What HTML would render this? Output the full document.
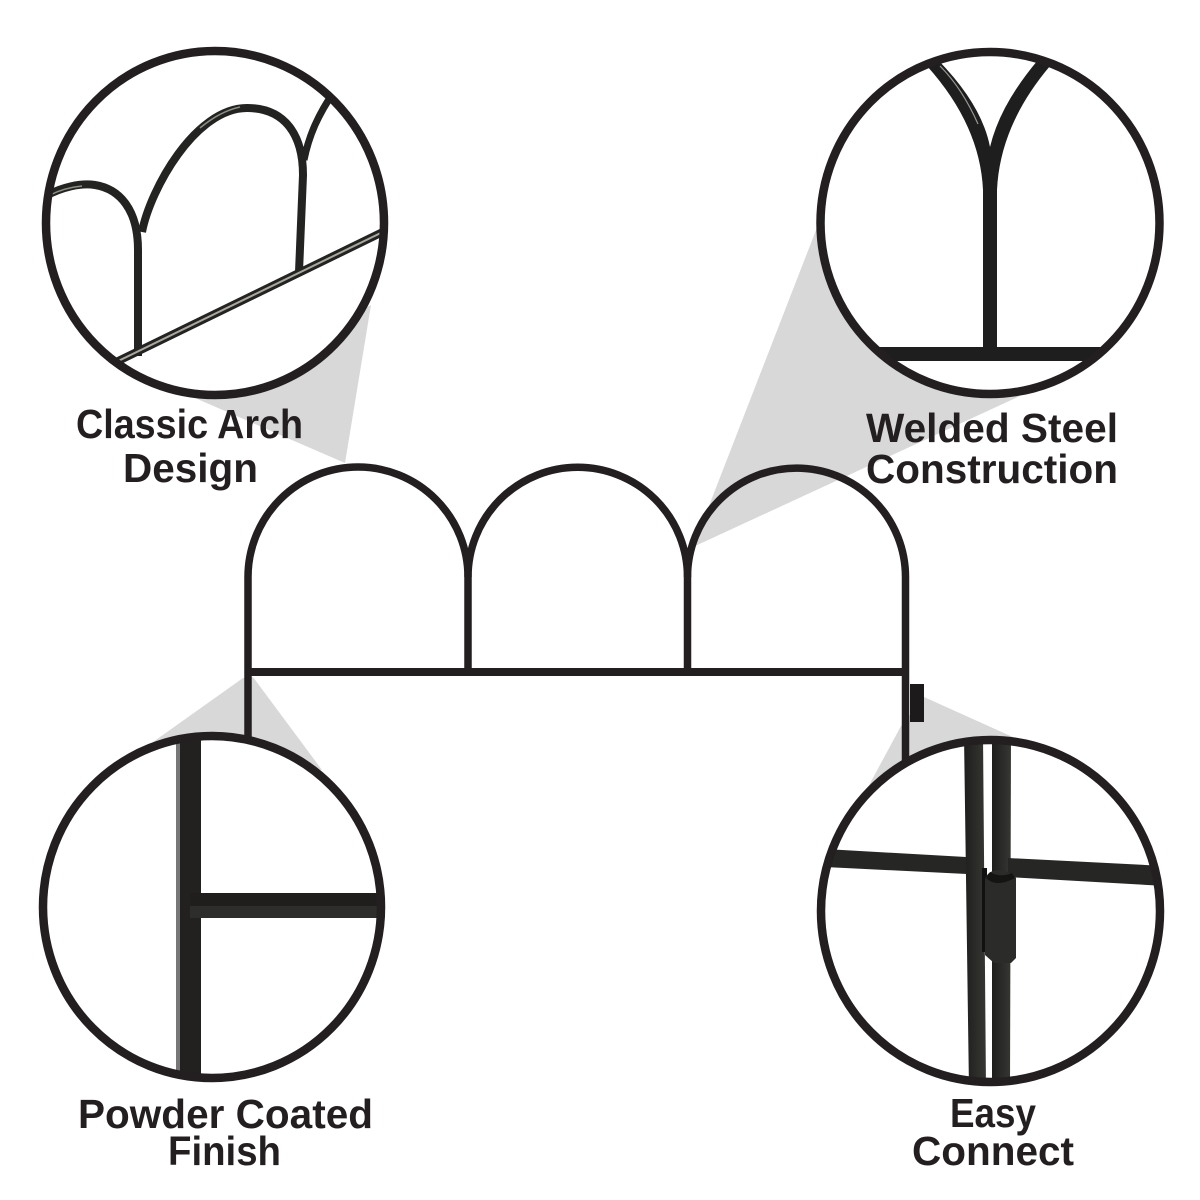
<!DOCTYPE html>
<html><head><meta charset="utf-8"><style>
html,body{margin:0;padding:0;background:#fff}
svg{display:block}
text{font-family:"Liberation Sans",sans-serif;font-weight:700;font-size:41px;fill:#231f20}
</style></head><body>
<svg width="1200" height="1200" viewBox="0 0 1200 1200" xmlns="http://www.w3.org/2000/svg">
<defs>
<clipPath id="c1"><ellipse cx="215" cy="223" rx="169" ry="172"/></clipPath>
<clipPath id="c2"><ellipse cx="990" cy="223" rx="169.500" ry="171"/></clipPath>
<clipPath id="c3"><ellipse cx="212" cy="907" rx="169" ry="171"/></clipPath>
<clipPath id="c4"><ellipse cx="990.500" cy="911" rx="169.500" ry="171"/></clipPath>
<linearGradient id="bar" x1="0" x2="1" y1="0" y2="0"><stop offset="0" stop-color="#1e1e1d"/><stop offset="1" stop-color="#363633"/></linearGradient>
</defs>
<rect width="1200" height="1200" fill="#fff"/>
<g fill="#d8d8d8">
<polygon points="195,398 345,463 371,305"/>
<polygon points="818,225 693,547 1020,396"/>
<polygon points="243,678 153,742 322,770 253,677"/>
<polygon points="901,726 924,697 1015,738 867,789"/>
</g>
<g fill="none" stroke="#231f20" stroke-width="7.500">
<path d="M248,740V577A100,100 0 0 1 468,577V672"/>
<path d="M468,577A100,100 0 0 1 687.500,577V672"/>
<path d="M687.500,577A100,100 0 0 1 905.500,577V765"/>
<path d="M248,672H905.500" stroke-width="8"/>
</g>
<rect x="910" y="684" width="14" height="38" fill="#1c1a1b"/>

<g>
<ellipse cx="215" cy="223" rx="169" ry="172" fill="#fff"/>
<g clip-path="url(#c1)" fill="none" stroke="#232321" stroke-linecap="butt">
<path d="M40,199C62,186 82,183 95,185C120,189 138,210 138,250V356" stroke-width="8"/>
<path d="M142,232C150,190 195,108 247,108C285,108 303,135 303,175L299,272" stroke-width="8"/>
<path d="M304,160C309,135 318,115 335,90" stroke-width="7"/>
<path d="M110,365L395,226" stroke-width="8"/>
<path d="M110,365L395,226" stroke="#a9a79e" stroke-width="2"/>
<path d="M50,195C60,190 72,187 82,186" stroke="#8f8e86" stroke-width="1.500"/>
<path d="M200,128C212,118 226,110 240,107" stroke="#8f8e86" stroke-width="1.500"/>
</g>
<ellipse cx="215" cy="223" rx="169" ry="172" fill="none" stroke="#231f20" stroke-width="8.500"/>
</g>

<g>
<ellipse cx="990" cy="223" rx="169.500" ry="171" fill="#fff"/>
<g clip-path="url(#c2)">
<path d="M927,66Q980,125 983,190V350H997V190Q1000,125 1050,66L1038,60Q1000,105 990,147Q982,105 938,60Z" fill="#1f1e1e"/>
<path d="M940,66Q962,88 978,124" fill="none" stroke="#9a9a94" stroke-width="1.200"/>
<rect x="860" y="347" width="260" height="14" fill="#1f1e1e"/>
</g>
<ellipse cx="990" cy="223" rx="169.500" ry="171" fill="none" stroke="#231f20" stroke-width="8.500"/>
</g>

<g>
<ellipse cx="212" cy="907" rx="169" ry="171" fill="#fff"/>
<g clip-path="url(#c3)">
<rect x="176" y="730" width="5" height="360" fill="#777"/>
<rect x="180" y="730" width="21" height="360" fill="#222120"/>
<rect x="190" y="893" width="200" height="13" fill="#1f1e1d"/>
<rect x="190" y="906" width="200" height="12" fill="#2d2d2b"/>
</g>
<ellipse cx="212" cy="907" rx="169" ry="171" fill="none" stroke="#231f20" stroke-width="8.500"/>
</g>

<g>
<ellipse cx="990.500" cy="911" rx="169.500" ry="171" fill="#fff"/>
<g clip-path="url(#c4)" fill="#262625">
<polygon points="964,735 983,735 986,1090 969,1090" fill="url(#bar)"/>
<polygon points="992,735 1011,735 1010,1090 992,1090" fill="url(#bar)"/>
<polygon points="825,849 966,857 967,874 825,867"/>
<polygon points="1008,858 1165,866 1165,886 1008,877"/>
<rect x="982" y="868" width="5" height="84" fill="#111"/>
<path d="M985,879Q988,870 1000,870Q1012,872 1016,878V958L1011,963H994L985,955Z" fill="#2b2b29"/>
<path d="M986,878Q996,888 1015,878L1012,873Q1000,878 990,872Z" fill="#141413"/>
</g>
<ellipse cx="990.500" cy="911" rx="169.500" ry="171" fill="none" stroke="#231f20" stroke-width="8.500"/>
</g>

<text x="76" y="438" textLength="227" lengthAdjust="spacingAndGlyphs">Classic Arch</text>
<text x="123" y="482" textLength="135" lengthAdjust="spacingAndGlyphs">Design</text>
<text x="866" y="442" textLength="252" lengthAdjust="spacingAndGlyphs">Welded Steel</text>
<text x="866" y="483" textLength="252" lengthAdjust="spacingAndGlyphs">Construction</text>
<text x="78" y="1128" textLength="295" lengthAdjust="spacingAndGlyphs">Powder Coated</text>
<text x="168" y="1165" textLength="113" lengthAdjust="spacingAndGlyphs">Finish</text>
<text x="950" y="1127" textLength="86" lengthAdjust="spacingAndGlyphs">Easy</text>
<text x="912" y="1165" textLength="162" lengthAdjust="spacingAndGlyphs">Connect</text>
</svg>
</body></html>
